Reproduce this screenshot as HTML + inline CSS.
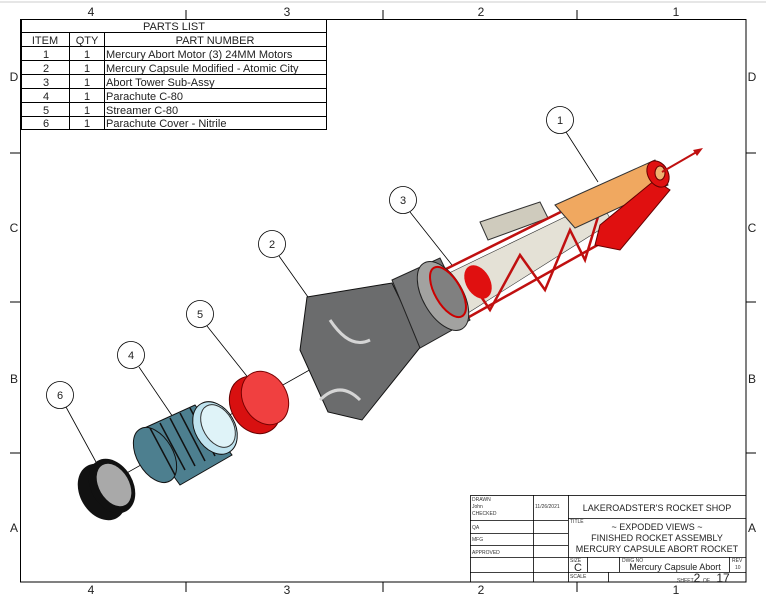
<!DOCTYPE html>
<html><head><meta charset="utf-8"><style>
html,body{margin:0;padding:0;background:#fff;}
svg{display:block;font-family:"Liberation Sans",Tahoma,sans-serif;}
</style></head><body>
<svg width="766" height="597" viewBox="0 0 766 597" xmlns="http://www.w3.org/2000/svg">
<rect width="766" height="597" fill="#fff"/>
<line x1="0" y1="2" x2="766" y2="2" stroke="#ccc"/>
<rect x="20.5" y="19.5" width="725.5" height="562.5" fill="none" stroke="#000"/>
<g stroke="#000">
<line x1="186" y1="10" x2="186" y2="19"/><line x1="383" y1="10" x2="383" y2="19"/><line x1="577" y1="10" x2="577" y2="19"/>
<line x1="186" y1="582" x2="186" y2="592"/><line x1="383" y1="582" x2="383" y2="592"/><line x1="577" y1="582" x2="577" y2="592"/>
<line x1="10" y1="153" x2="20" y2="153"/><line x1="10" y1="302" x2="20" y2="302"/><line x1="10" y1="453" x2="20" y2="453"/>
<line x1="746" y1="153" x2="756" y2="153"/><line x1="746" y1="302" x2="756" y2="302"/><line x1="746" y1="453" x2="756" y2="453"/>
</g>
<g font-size="12" fill="#222" text-anchor="middle">
<text x="91" y="16">4</text><text x="287" y="16">3</text><text x="481" y="16">2</text><text x="676" y="16">1</text>
<text x="91" y="594">4</text><text x="287" y="594">3</text><text x="481" y="594">2</text><text x="676" y="594">1</text>
<text x="14" y="81">D</text><text x="14" y="232">C</text><text x="14" y="383">B</text><text x="14" y="532">A</text>
<text x="752" y="81">D</text><text x="752" y="232">C</text><text x="752" y="383">B</text><text x="752" y="532">A</text>
</g>
<g stroke="#000" fill="none">
<rect x="21.5" y="19.5" width="305" height="110"/>
<line x1="21" y1="32.5" x2="326" y2="32.5"/>
<line x1="21" y1="46.5" x2="326" y2="46.5"/>
<line x1="21" y1="60.5" x2="326" y2="60.5"/>
<line x1="21" y1="74.5" x2="326" y2="74.5"/>
<line x1="21" y1="88.5" x2="326" y2="88.5"/>
<line x1="21" y1="102.5" x2="326" y2="102.5"/>
<line x1="21" y1="116.5" x2="326" y2="116.5"/>
<line x1="69.5" y1="32" x2="69.5" y2="130"/>
<line x1="104.5" y1="32" x2="104.5" y2="130"/>
</g>
<g font-size="11" fill="#222">
<text x="174" y="30" text-anchor="middle">PARTS LIST</text>
<text x="45" y="44" text-anchor="middle">ITEM</text><text x="87" y="44" text-anchor="middle">QTY</text><text x="215" y="44" text-anchor="middle">PART NUMBER</text>
<g text-anchor="middle"><text x="46" y="58">1</text><text x="46" y="72">2</text><text x="46" y="86">3</text><text x="46" y="100">4</text><text x="46" y="114">5</text><text x="46" y="127">6</text>
<text x="87" y="58">1</text><text x="87" y="72">1</text><text x="87" y="86">1</text><text x="87" y="100">1</text><text x="87" y="114">1</text><text x="87" y="127">1</text></g>
<text x="106" y="58">Mercury Abort Motor (3) 24MM Motors</text>
<text x="106" y="72">Mercury Capsule Modified - Atomic City</text>
<text x="106" y="86">Abort Tower Sub-Assy</text>
<text x="106" y="100">Parachute C-80</text>
<text x="106" y="114">Streamer C-80</text>
<text x="106" y="127">Parachute Cover - Nitrile</text>
</g>
<g stroke="#000" fill="none" stroke-width="0.8">
<rect x="470.5" y="495.5" width="275.5" height="86.5"/>
<line x1="533.5" y1="495" x2="533.5" y2="582"/>
<line x1="568.5" y1="495" x2="568.5" y2="582"/>
<line x1="470" y1="520.5" x2="568" y2="520.5"/>
<line x1="470" y1="533.5" x2="568" y2="533.5"/>
<line x1="470" y1="545.5" x2="568" y2="545.5"/>
<line x1="470" y1="557.5" x2="746" y2="557.5"/>
<line x1="470" y1="572.5" x2="746" y2="572.5"/>
<line x1="568" y1="518.5" x2="746" y2="518.5"/>
<line x1="587.5" y1="557" x2="587.5" y2="572"/>
<line x1="619.5" y1="557" x2="619.5" y2="572"/>
<line x1="729.5" y1="557" x2="729.5" y2="572"/>
<line x1="608.5" y1="572" x2="608.5" y2="582"/>
</g>
<g fill="#333" font-size="5">
<text x="472" y="501">DRAWN</text><text x="472" y="508">John</text><text x="472" y="515">CHECKED</text>
<text x="472" y="529">QA</text><text x="472" y="541">MFG</text><text x="472" y="554">APPROVED</text>
<text x="535" y="508">11/26/2021</text>
<text x="570" y="523">TITLE</text><text x="570" y="562">SIZE</text><text x="622" y="562">DWG NO</text><text x="732" y="562">REV</text>
<text x="570" y="578">SCALE</text><text x="677" y="582">SHEET</text><text x="703" y="582">OF</text><text x="735" y="569">10</text>
</g>
<g fill="#222" font-size="9" text-anchor="middle">
<text x="657" y="511">LAKEROADSTER'S ROCKET SHOP</text>
<text x="657" y="530">~ EXPODED VIEWS ~</text>
<text x="657" y="541">FINISHED ROCKET ASSEMBLY</text>
<text x="657" y="552">MERCURY CAPSULE ABORT ROCKET</text>
<text x="675" y="570">Mercury Capsule Abort</text>
<text x="578" y="571" font-size="11">C</text>
<text x="697" y="582" font-size="12">2</text><text x="723" y="582" font-size="12">17</text>
</g>
<g stroke="#000" stroke-width="0.8" fill="#fff">
<line x1="566" y1="132" x2="598" y2="182"/>
<line x1="279" y1="256" x2="308" y2="297"/>
<line x1="410" y1="212" x2="452" y2="265"/>
<line x1="139" y1="367" x2="175" y2="420"/>
<line x1="207" y1="326" x2="250" y2="380"/>
<line x1="66" y1="407" x2="96" y2="462"/>
<circle cx="560" cy="120" r="13.5"/><circle cx="272" cy="244" r="13.5"/><circle cx="403" cy="200" r="13.5"/>
<circle cx="131" cy="355" r="13.5"/><circle cx="200" cy="314" r="13.5"/><circle cx="60" cy="395" r="13.5"/>
</g>
<g font-size="11" fill="#222" text-anchor="middle">
<text x="560" y="124">1</text><text x="272" y="248">2</text><text x="403" y="204">3</text><text x="131" y="359">4</text><text x="200" y="318">5</text><text x="60" y="399">6</text>
</g>
<line x1="100" y1="488" x2="700" y2="150" stroke="#000" stroke-width="0.8"/>
<g>
<polygon points="445,275 600,200 612,222 460,318" fill="#e4e1d6" stroke="#333" stroke-width="0.6"/>
<polygon points="480,222 540,202 548,218 488,240" fill="#cfcbbd" stroke="#333"/>
<g stroke="#c01010" stroke-width="2.5" fill="none">
<line x1="440" y1="272" x2="615" y2="185"/><line x1="460" y1="322" x2="628" y2="228"/>
<polyline points="470,280 490,310 520,255 545,290 570,230 585,260 600,210"/>
</g>
<polygon points="555,205 655,160 668,185 575,228" fill="#f0a860" stroke="#333"/>
<polygon points="600,225 655,180 670,190 620,250 595,245" fill="#e01010" stroke="#600"/>
<ellipse cx="658" cy="174" rx="10" ry="14" transform="rotate(-30 658 174)" fill="#e01010" stroke="#600"/>
<ellipse cx="660" cy="173" rx="5" ry="7" fill="#f0b070" stroke="#600"/>
<line x1="662" y1="172" x2="700" y2="150" stroke="#c01010" stroke-width="2"/>
<polygon points="703,148 693,150 697,156" fill="#c01010"/>
<ellipse cx="478" cy="282" rx="12" ry="18" transform="rotate(-30 478 282)" fill="#e01010"/>
</g>
<polygon points="307,297 392,283 422,345 362,420 328,412 300,350" fill="#6b6c6d" stroke="#111"/>
<polygon points="392,280 440,258 470,320 420,348" fill="#767778" stroke="#222"/>
<ellipse cx="443" cy="296" rx="20" ry="38" transform="rotate(-30 443 296)" fill="#a2a2a0" stroke="#222"/>
<ellipse cx="448" cy="292" rx="13" ry="28" transform="rotate(-30 448 292)" fill="#808080" stroke="#c00" stroke-width="2"/>
<path d="M330,320 Q350,350 370,340" stroke="#d5d5d5" stroke-width="3" fill="none"/>
<path d="M320,400 Q340,380 360,400" stroke="#d5d5d5" stroke-width="3" fill="none"/>
<ellipse cx="255" cy="405" rx="24" ry="30" transform="rotate(-30 255 405)" fill="#d81010" stroke="#600"/>
<ellipse cx="265" cy="398" rx="22" ry="28" transform="rotate(-30 265 398)" fill="#f04040" stroke="#700"/>
<polygon points="140,430 195,405 232,455 180,485" fill="#4d7f8f" stroke="#111"/>
<ellipse cx="155" cy="455" rx="18" ry="30" transform="rotate(-30 155 455)" fill="#4d7f8f" stroke="#111"/>
<g stroke="#111" stroke-width="1.5" fill="none">
<line x1="150" y1="428" x2="175" y2="475"/><line x1="160" y1="423" x2="185" y2="470"/><line x1="170" y1="418" x2="195" y2="466"/><line x1="180" y1="413" x2="205" y2="461"/><line x1="190" y1="408" x2="215" y2="456"/>
</g>
<ellipse cx="215" cy="428" rx="20" ry="28" transform="rotate(-30 215 428)" fill="#bfe3ef" stroke="#111"/>
<ellipse cx="218" cy="426" rx="15" ry="23" transform="rotate(-30 218 426)" fill="#dff3f8" stroke="#333"/>
<ellipse cx="102" cy="492" rx="22" ry="30" transform="rotate(-30 102 492)" fill="#111"/>
<ellipse cx="112" cy="486" rx="21" ry="29" transform="rotate(-30 112 486)" fill="#111"/>
<ellipse cx="114" cy="485" rx="15" ry="23" transform="rotate(-30 114 485)" fill="#a9a9a9"/>
</svg>
</body></html>
